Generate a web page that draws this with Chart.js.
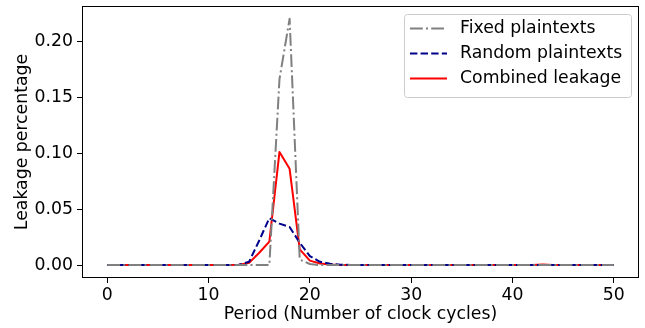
<!DOCTYPE html>
<html>
<head>
<meta charset="utf-8">
<script src="https://cdn.jsdelivr.net/npm/chart.js@4.4.1/dist/chart.umd.min.js"></script>
<style>
  html, body { margin: 0; padding: 0; background: #fff; }
  #wrap { width: 645px; height: 328px; }
</style>
</head>
<body>
<div id="wrap"><canvas id="myChart"></canvas></div>
<script>
// period (clock cycles)
const periods = [0, 1, 2, 3, 4, 5, 6, 7, 8, 9, 10, 11, 12, 13, 14, 15, 16, 17, 18, 19, 20,
  21, 22, 23, 24, 25, 26, 27, 28, 29, 30, 31, 32, 33, 34, 35, 36, 37, 38, 39, 40,
  41, 42, 43, 44, 45, 46, 47, 48, 49, 50];

const fixedLeak = [0, 0, 0, 0, 0, 0, 0, 0, 0, 0, 0, 0, 0, 0, 0, 0, 0, 0.166, 0.220, 0.005, 0.001,
  0, 0, 0, 0, 0, 0, 0, 0, 0, 0, 0, 0, 0, 0, 0, 0, 0, 0, 0, 0,
  0, 0, 0, 0, 0, 0, 0, 0, 0, 0];

const randomLeak = [0, 0, 0, 0, 0, 0, 0, 0, 0, 0, 0, 0, 0, 0.0003, 0.003, 0.022, 0.042, 0.037, 0.034, 0.020, 0.008,
  0.003, 0.0012, 0.0004, 0.0001, 0.0001, 0.0001, 0.0001, 0.0001, 0.0001, 0.0001, 0.0001, 0.0001, 0.0001, 0.0001, 0.0001, 0.0001, 0.0001, 0.0001, 0.0001, 0.0001,
  0.0001, 0.0001, 0.0001, 0.0001, 0.0001, 0.0001, 0.0001, 0.0001, 0.0001, 0.0001];

const combinedLeak = [0, 0, 0, 0, 0, 0, 0, 0, 0, 0, 0, 0, 0, 0.0003, 0.002, 0.011, 0.021, 0.101, 0.086, 0.014, 0.004,
  0.0015, 0.0005, 0.0001, 0.0001, 0.0001, 0.0001, 0.0001, 0.0001, 0.0001, 0.0001, 0.0001, 0.0001, 0.0001, 0.0001, 0.0001, 0.0001, 0.0001, 0.0001, 0.0001, 0.0001,
  0.0001, 0.0001, 0.0005, 0.0001, 0.0001, 0.0001, 0.0001, 0.0001, 0.0001, 0.0001];

const xTicks = [0, 10, 20, 30, 40, 50];
const yTicks = [0, 0.05, 0.10, 0.15, 0.20];

const FONT = "'DejaVu Sans', sans-serif";
const FS = 17.3;

function toPoints(ys) {
  return periods.map((p, i) => ({ x: p, y: ys[i] }));
}

// matplotlib-like framed legend in the upper right corner
const boxLegend = {
  id: 'boxLegend',
  afterDraw(chart) {
    const ctx = chart.ctx;
    const area = chart.chartArea;
    const w = 227, h = 83;
    const x0 = area.right - 8 - w;
    const y0 = area.top + 8;
    ctx.save();
    ctx.beginPath();
    ctx.roundRect(x0 + 0.5, y0 + 0.5, w, h, 3);
    ctx.fillStyle = 'rgba(255,255,255,0.8)';
    ctx.fill();
    ctx.strokeStyle = '#cccccc';
    ctx.lineWidth = 1;
    ctx.stroke();
    ctx.font = FS + 'px ' + FONT;
    ctx.textBaseline = 'middle';
    chart.data.datasets.forEach((ds, i) => {
      const cy = y0 + 14.5 + i * 25;
      ctx.beginPath();
      ctx.setLineDash(ds.borderDash || []);
      ctx.strokeStyle = ds.borderColor;
      ctx.lineWidth = ds.borderWidth;
      ctx.moveTo(x0 + 6, cy);
      ctx.lineTo(x0 + 43, cy);
      ctx.stroke();
      ctx.setLineDash([]);
      ctx.fillStyle = '#000';
      ctx.fillText(ds.label, x0 + 56, cy);
    });
    ctx.restore();
  }
};

// full box around plot area
const frame = {
  id: 'frame',
  afterDraw(chart) {
    const { left, top, right, bottom } = chart.chartArea;
    const ctx = chart.ctx;
    ctx.save();
    ctx.strokeStyle = '#000';
    ctx.lineWidth = 1;
    ctx.strokeRect(Math.round(left) + 0.5, Math.round(top) + 0.5, Math.round(right - left) - 1, Math.round(bottom - top) - 1);
    ctx.restore();
  }
};

new Chart(document.getElementById('myChart').getContext('2d'), {
  type: 'line',
  data: {
    datasets: [
      {
        label: 'Fixed plaintexts',
        data: toPoints(fixedLeak),
        borderColor: '#808080',
        borderWidth: 2,
        borderDash: [12.8, 3.2, 2, 3.2]
      },
      {
        label: 'Random plaintexts',
        data: toPoints(randomLeak),
        borderColor: '#00008b',
        borderWidth: 2,
        borderDash: [7.4, 3.2]
      },
      {
        label: 'Combined leakage',
        data: toPoints(combinedLeak),
        borderColor: '#ff0000',
        borderWidth: 2
      }
    ]
  },
  options: {
    responsive: true,
    maintainAspectRatio: false,
    animation: false,
    layout: { padding: { top: 6, right: 6, left: 0, bottom: 0 } },
    elements: {
      point: { radius: 0 },
      line: { tension: 0, fill: false, borderJoinStyle: 'round', borderCapStyle: 'butt' }
    },
    plugins: {
      legend: { display: false },
      tooltip: { enabled: false }
    },
    scales: {
      x: {
        type: 'linear',
        min: -2.5,
        max: 52.5,
        afterBuildTicks: (axis) => { axis.ticks = xTicks.map(v => ({ value: v })); },
        afterFit: (axis) => { axis.height = 50; axis.paddingLeft = 0; axis.paddingRight = 0; },
        grid: { drawOnChartArea: false, drawTicks: true, tickLength: 5, color: '#000' },
        border: { display: false },
        ticks: { font: { family: FONT, size: FS }, color: '#000', padding: 2, maxRotation: 0 },
        title: { display: true, text: 'Period (Number of clock cycles)', font: { family: FONT, size: FS }, color: '#000', padding: { top: 0, bottom: 3 } }
      },
      y: {
        min: -0.0115,
        max: 0.2313,
        afterBuildTicks: (axis) => { axis.ticks = yTicks.map(v => ({ value: v })); },
        afterFit: (axis) => { axis.width = 82; axis.paddingTop = 0; axis.paddingBottom = 0; },
        grid: { drawOnChartArea: false, drawTicks: true, tickLength: 5, color: '#000' },
        border: { display: false },
        ticks: { font: { family: FONT, size: FS }, color: '#000', padding: 4, callback: (v) => v.toFixed(2) },
        title: { display: true, text: 'Leakage percentage', font: { family: FONT, size: FS }, color: '#000', padding: { top: 12, bottom: 0 } }
      }
    }
  },
  plugins: [frame, boxLegend]
});
</script>
</body>
</html>
